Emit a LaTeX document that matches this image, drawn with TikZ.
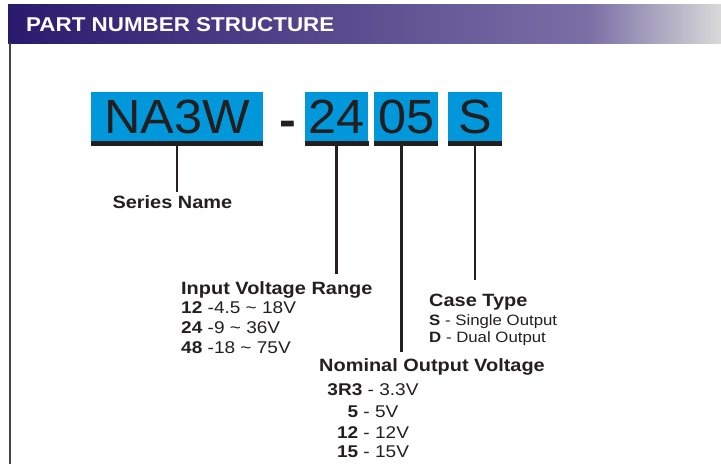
\documentclass[tikz,border=0pt]{standalone}
\usepackage{fontspec}
\setmainfont{Liberation Sans}
\newfontfamily\lblfont[FakeStretch=1.12]{Liberation Sans}
\newfontfamily\codefont[FakeStretch=1.05]{Liberation Sans}
\usetikzlibrary{positioning}
\definecolor{hdrdark}{HTML}{2A1A6E}
\definecolor{hdrmid}{HTML}{7A70A6}
\definecolor{hdrlight}{HTML}{D9D9D9}
\definecolor{codeblue}{HTML}{0098DA}
\definecolor{ink}{HTML}{231F20}
\definecolor{edgegray}{HTML}{444444}
\tikzset{
    codebox/.style = {rectangle, fill=codeblue, text=ink, inner sep=0pt, minimum height=49pt, text height=34pt, text depth=0pt, font=\codefont\fontsize{48}{48}\selectfont},
    heading/.style = {inner sep=0pt, anchor=base west, text=ink, font=\lblfont\bfseries\fontsize{17.8}{20}\selectfont},
    valtext/.style = {inner sep=0pt, text=ink, font=\lblfont\fontsize{17}{20}\selectfont},
    smallval/.style = {valtext, font=\lblfont\fontsize{15}{18}\selectfont},
    lead/.style = {draw=ink, line width=2.8pt}
}

\begin{document}
\begin{tikzpicture}[x=1pt, y=-1pt]
        \useasboundingbox (0,0) rectangle (721,464);
        % Header
        \shade[left color=hdrdark, right color=hdrmid] (8,4) rectangle (590,43);
        \shade[left color=hdrmid, right color=hdrlight] (589.5,4) rectangle (721,43);
        \draw[edgegray, line width=1.5pt] (10,43) -- (10,464);
        \node[anchor=base west, inner sep=0pt, text=white, font=\lblfont\bfseries\fontsize{20}{20}\selectfont] (title) at (26,31.7) {PART NUMBER STRUCTURE};
        
        % Code boxes
        \node [codebox, minimum width=172pt] (nabox) at (177,116.5) {NA3W};
        \node [anchor=base, inner sep=0pt, text=ink, font=\codefont\bfseries\fontsize{48}{48}\selectfont] (dash) at (288.3,136) {-};
        \node [codebox, minimum width=63.3pt] (inbox) at (336.7,116.5) {24};
        \node [codebox, minimum width=64pt, right=5.4pt of inbox] (outbox) {05};
        \node [codebox, minimum width=53.7pt, right=9.6pt of outbox] (casebox) {S};
        \foreach \b in {nabox, inbox, outbox, casebox}
            \fill[ink] (\b.south west) rectangle ([yshift=-5pt]\b.south east);
        
        % Labels
        \node [heading] (serieslbl) at (112.3,208.5) {Series Name};
        \node [heading] (inputlbl) at (181,294) {Input Voltage Range};
        \node [heading] (caselbl) at (429,306.7) {Case Type};
        \node [heading] (outputlbl) at (319,371.7) {Nominal Output Voltage};
        
        % Values
        \foreach \num/\rng [count=\i] in {12/-4.5 \textasciitilde{} 18V, 24/-9 \textasciitilde{} 36V, 48/-18 \textasciitilde{} 75V}
            \node [valtext, anchor=base west] (inval\i) at (181,293.3+20*\i) {\textbf{\num} \rng};
        \node [smallval, anchor=base west] (caseS) at (429,325) {\textbf{S} - Single Output};
        \node [smallval, anchor=base west] (caseD) at (429,342.7) {\textbf{D} - Dual Output};
        \foreach \num/\volt/\yb in {3R3/3.3V/395.3, 5/5V/417.5, 12/12V/438, 15/15V/457.3}
            \node [valtext, anchor=base] (out\num) at (373,\yb) {\textbf{\num} - \volt};
        
        % Leads
        \coordinate (outtap) at ([xshift=-5pt]outbox.south);
        \draw [lead, shorten >=3pt] (nabox.south) -- (nabox.south |- serieslbl.north);
        \draw [lead, shorten >=7pt] (inbox.south) -- (inbox.south |- inputlbl.north);
        \draw [lead, shorten >=7pt] (outtap) -- (outtap |- outputlbl.north);
        \draw [lead, shorten >=14pt] (casebox.south) -- (casebox.south |- caselbl.north);
    \end{tikzpicture}
\end{document}
